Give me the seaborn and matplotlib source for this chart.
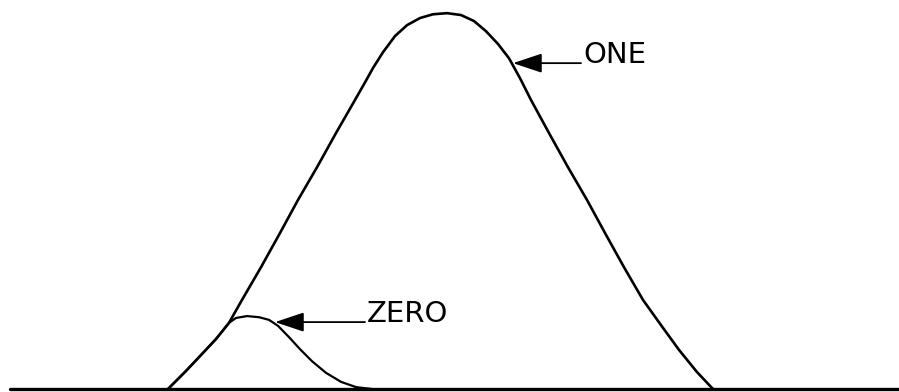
import numpy as np
import pandas as pd
import matplotlib
matplotlib.use('Agg')
import matplotlib.pyplot as plt
import seaborn as sns

# 곡선 데이터 (x: 신호 레벨, y: 상대 빈도 %)
one_x = [16.8, 18.6, 20.3, 21.6, 22.3, 22.9, 24.2, 26.1, 28.0, 29.8, 31.7, 33.6, 35.5, 36.4,
         37.3, 38.3, 39.5, 40.7, 42.0, 43.3, 44.7, 46.1, 47.4, 48.6, 49.8, 50.9, 52.0,
         53.1, 54.9, 56.8, 58.7, 60.5, 62.4, 64.3, 66.1, 67.9, 69.7, 71.3]
one_y = [0.0, 4.8, 9.6, 13.3, 15.6, 17.6, 23.7, 32.4, 41.5, 50.3, 59.0, 68.1, 76.9, 81.1,
         85.4, 89.6, 93.9, 96.8, 98.7, 99.7, 100.0, 99.5, 97.9, 95.2, 91.8, 88.0, 82.7,
         76.9, 68.1, 59.0, 50.3, 41.5, 32.4, 23.7, 17.0, 10.4, 4.5, 0.0]

zero_x = [16.8, 18.6, 20.3, 21.6, 22.3, 22.9, 23.6, 24.7, 25.9, 26.9, 27.8, 28.9, 30.0,
          31.2, 32.6, 34.1, 35.6, 37.2]
zero_y = [0.0, 4.8, 9.6, 13.3, 15.6, 17.6, 18.9, 19.4, 19.1, 18.4, 16.8, 13.8, 10.6,
          7.4, 4.3, 1.9, 0.5, 0.0]

# 라벨 위치 (화살표 끝, 텍스트 시작)
labels = ['ONE', 'ZERO']
arrow_tip_x = [51.3, 27.5]
arrow_tip_y = [86.7, 17.8]
label_x = [58.3, 36.7]

df_one = pd.DataFrame({'x': one_x, 'y': one_y})
df_zero = pd.DataFrame({'x': zero_x, 'y': zero_y})

sns.set_style('white')
plt.rcParams['font.family'] = ['DejaVu Sans']

fig = plt.figure(figsize=(8.99, 3.92), dpi=100)
ax = fig.add_axes([0, 0, 1, 1])

sns.lineplot(data=df_one, x='x', y='y', color='black', linewidth=1.9,
             estimator=None, sort=False, ax=ax)
sns.lineplot(data=df_zero, x='x', y='y', color='black', linewidth=1.6,
             estimator=None, sort=False, ax=ax)

ax.axhline(0, xmin=0.011, xmax=1.0, color='black', linewidth=2.4)

for lab, tx, ty, lx in zip(labels, arrow_tip_x, arrow_tip_y, label_x):
    ax.annotate('', xy=(tx, ty), xytext=(lx - 0.2, ty),
                arrowprops=dict(arrowstyle='-|>,head_length=0.9,head_width=0.3',
                                mutation_scale=20, color='black', lw=1.3,
                                shrinkA=0, shrinkB=0))
    ax.text(lx, ty, lab, ha='left', va='baseline', fontsize=21, color='black')

ax.set_xlim(0, 89.9)
ax.set_ylim(-0.8, 103.5)
ax.axis('off')

fig.savefig('out.png', dpi=100, facecolor='white')
